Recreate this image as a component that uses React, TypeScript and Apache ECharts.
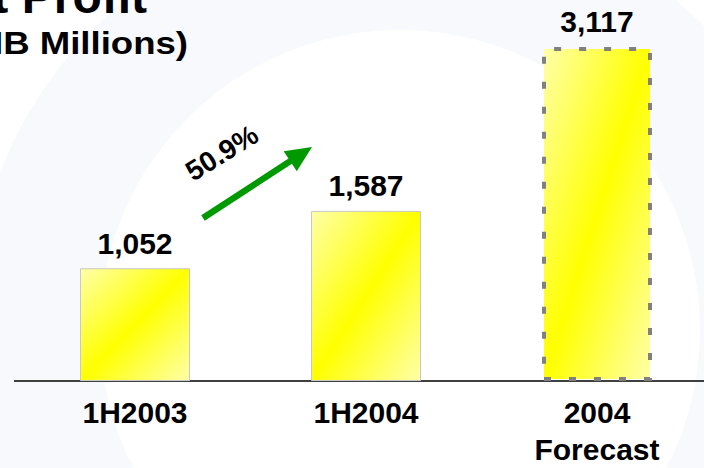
import React, { useEffect, useRef } from "react";
import * as echarts from "echarts";

const categories = ["1H2003", "1H2004", "2004\nForecast"];
const values = [1052, 1587, 3117];
const growthLabel = "50.9%";
const titleText = "Net Profit";
const subtitleText = "(RMB Millions)";

const FONT = "'Liberation Sans', Arial, sans-serif";

export default function App() {
  const ref = useRef<HTMLDivElement>(null);
  useEffect(() => {
    const chart = echarts.init(ref.current!, null, { renderer: "svg" });
    const fill = new echarts.graphic.LinearGradient(0, 0, 1, 1, [
      { offset: 0, color: "#ffffa8" },
      { offset: 0.5, color: "#ffff00" },
      { offset: 1, color: "#ffffa8" },
    ]);
    const data = values.map((v, i) => {
      const forecast = i === values.length - 1;
      return {
        value: v,
        itemStyle: forecast
          ? { color: fill, borderColor: "#808080", borderWidth: 4, borderType: [7, 18] }
          : { color: fill, borderColor: "#c8c8c8", borderWidth: 1 },
      };
    });
    chart.setOption({
      animation: false,
      backgroundColor: "#ffffff",
      grid: { left: 19.5, top: 38, width: 693, height: 343, outerBoundsMode: "none", containLabel: false },
      xAxis: {
        type: "category",
        data: categories,
        axisLine: { show: false },
        axisTick: { show: false },
        axisLabel: {
          color: "#000",
          fontFamily: FONT,
          fontWeight: "bold",
          fontSize: 30,
          lineHeight: 37,
          margin: 13,
        },
      },
      yAxis: {
        type: "value",
        min: 0,
        max: 3200,
        show: false,
        splitLine: { show: false },
      },
      series: [
        {
          type: "bar",
          data,
          barWidth: 110,
          label: {
            show: true,
            position: "top",
            distance: 10,
            color: "#000",
            fontFamily: FONT,
            fontWeight: "bold",
            fontSize: 30,
            formatter: (p: any) => Number(p.value).toLocaleString("en-US"),
          },
        },
      ],
    });
    const baseY = chart.convertToPixel({ yAxisIndex: 0 }, 0) as number;
    chart.setOption({
      graphic: [
        {
          type: "ring",
          silent: true,
          z: -10,
          shape: { cx: 400, cy: 330, r: 430, r0: 300 },
          style: { fill: "#f8f9fc" },
        },
        {
          type: "line",
          shape: { x1: 14, y1: baseY, x2: 704, y2: baseY },
          style: { stroke: "#000", lineWidth: 1.5 },
        },
        {
          type: "text",
          x: 147,
          y: 20,
          style: {
            text: titleText,
            fill: "#000",
            font: `bold 48px ${FONT}`,
            align: "right",
            verticalAlign: "bottom",
          },
        },
        {
          type: "text",
          x: 188,
          y: 43,
          scaleX: 1.18,
          style: {
            text: subtitleText,
            fill: "#000",
            font: `bold 31px ${FONT}`,
            align: "right",
            verticalAlign: "middle",
          },
        },
        {
          type: "polygon",
          shape: {
            points: (() => {
              const x0 = 203, y0 = 218, x1 = 312, y1 = 147;
              const dx = x1 - x0, dy = y1 - y0;
              const L = Math.hypot(dx, dy);
              const ux = dx / L, uy = dy / L;
              const nx = -uy, ny = ux;
              const hw = 3.2, headL = 26, headW = 12;
              const bx = x1 - ux * headL, by = y1 - uy * headL;
              return [
                [x0 + nx * hw, y0 + ny * hw],
                [bx + nx * hw, by + ny * hw],
                [bx + nx * headW, by + ny * headW],
                [x1, y1],
                [bx - nx * headW, by - ny * headW],
                [bx - nx * hw, by - ny * hw],
                [x0 - nx * hw, y0 - ny * hw],
              ];
            })(),
          },
          style: { fill: "#009900" },
        },
        {
          type: "text",
          x: 222,
          y: 153,
          rotation: (32 * Math.PI) / 180,
          style: {
            text: growthLabel,
            fill: "#000",
            font: `bold 28px ${FONT}`,
            align: "center",
            verticalAlign: "middle",
          },
        },
      ],
    });
    return () => chart.dispose();
  }, []);
  return (
    <div style={{ width: 704, height: 468, position: "fixed", left: 0, top: 0, overflow: "hidden" }}>
      <div ref={ref} style={{ width: 720, height: 468 }} />
    </div>
  );
}
